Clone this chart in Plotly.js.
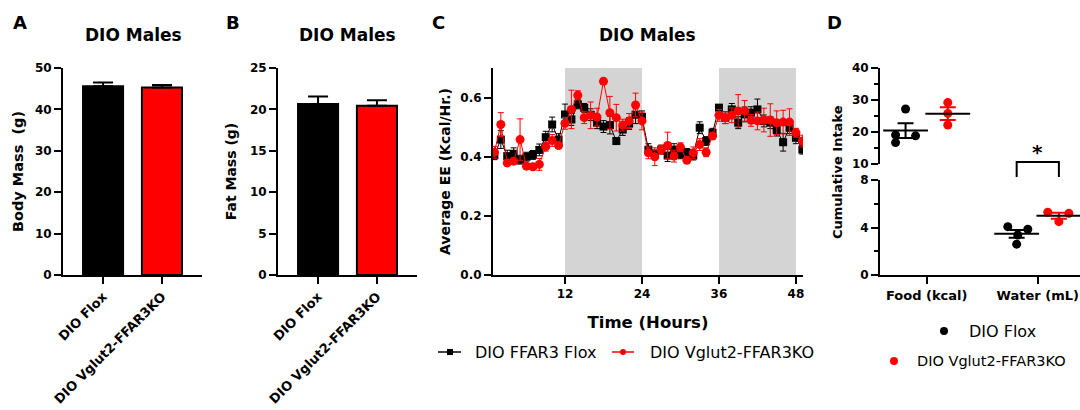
<!DOCTYPE html>
<html><head><meta charset="utf-8">
<script src="https://cdn.plot.ly/plotly-3.0.1.min.js"></script>
<style>html,body{margin:0;padding:0;background:#fff}#chart{width:1080px;height:410px}</style>
</head><body><div id="chart"></div>
<script>
// ---------- DATA ----------
const groups = ['DIO Flox', 'DIO Vglut2-FFAR3KO'];
const bodyMass = [45.6, 45.3];
const bodyMassSem = [0.9, 0.6];
const fatMass = [20.65, 20.45];
const fatMassSem = [0.9, 0.65];

const hours = [1,2,3,4,5,6,7,8,9,10,11,12,13,14,15,16,17,18,19,20,21,22,23,24,25,26,27,28,29,30,31,32,33,34,35,36,37,38,39,40,41,42,43,44,45,46,47,48,49];
const eeFlox = [0.405,0.458,0.402,0.410,0.390,0.400,0.406,0.423,0.466,0.509,0.458,0.543,0.526,0.577,0.565,0.542,0.515,0.502,0.507,0.453,0.492,0.512,0.542,0.535,0.424,0.408,0.424,0.404,0.424,0.408,0.413,0.404,0.498,0.453,0.481,0.566,0.532,0.560,0.515,0.543,0.549,0.560,0.521,0.515,0.490,0.449,0.498,0.464,0.424];
const eeFloxSem = [0.015,0.03,0.02,0.02,0.015,0.015,0.015,0.02,0.02,0.025,0.02,0.035,0.02,0.015,0.015,0.02,0.02,0.02,0.03,0.01,0.02,0.02,0.03,0.02,0.02,0.015,0.015,0.02,0.02,0.015,0.015,0.015,0.02,0.015,0.015,0.01,0.02,0.02,0.02,0.025,0.02,0.035,0.02,0.02,0.02,0.03,0.02,0.02,0.015];
const eeKO = [0.415,0.509,0.379,0.385,0.458,0.368,0.366,0.374,0.434,0.455,0.438,0.513,0.560,0.608,0.532,0.540,0.534,0.655,0.549,0.532,0.507,0.521,0.575,0.521,0.413,0.400,0.424,0.438,0.402,0.432,0.388,0.413,0.441,0.415,0.470,0.540,0.532,0.540,0.555,0.555,0.523,0.521,0.524,0.524,0.515,0.517,0.517,0.481,0.453];
const eeKOSem = [0.02,0.04,0.01,0.01,0.07,0.01,0.01,0.02,0.015,0.02,0.01,0.02,0.065,0.015,0.02,0.045,0.03,0.01,0.055,0.045,0.02,0.025,0.04,0.03,0.02,0.03,0.015,0.045,0.02,0.015,0.01,0.02,0.02,0.015,0.01,0.02,0.02,0.025,0.055,0.035,0.02,0.03,0.04,0.055,0.04,0.04,0.045,0.015,0.02];
const timeTicks = [12, 24, 36, 48];

const intakeCats = ['Food (kcal)', 'Water (mL)'];
const floxFood = [16.7, 19.1, 27.2, 18.8];
const floxFoodJitter = [-0.09, -0.09, 0, 0.09];
const koFood = [22.2, 25.8, 29.2];
const koFoodJitter = [0, 0, 0];
const floxWater = [4.07, 2.6, 3.85, 3.37];
const floxWaterJitter = [-0.08, 0, 0.1, 0.01];
const koWater = [5.28, 4.49, 5.19];
const koWaterJitter = [-0.1, 0, 0.09];
const legendC = ['DIO FFAR3 Flox', 'DIO Vglut2-FFAR3KO'];
const legendD = ['DIO Flox', 'DIO Vglut2-FFAR3KO'];

// ---------- HELPERS ----------
const FONT = 'DejaVu Sans';
const W = 1080, H = 410;
const px = v => v / W;
const py = v => (H - v) / H;
const mean = a => a.reduce((s, v) => s + v, 0) / a.length;
const sem = a => { const m = mean(a); return Math.sqrt(a.reduce((s, v) => s + (v - m) * (v - m), 0) / (a.length - 1)) / Math.sqrt(a.length); };

const tickFont = {family: FONT, size: 12, color: '#000', weight: 'bold'};
const titleFont = {family: FONT, size: 14, color: '#000', weight: 'bold'};
function ax(extra) {
  return Object.assign({
    showline: true, linecolor: '#000', linewidth: 2,
    ticks: 'outside', ticklen: 7, tickwidth: 2, tickcolor: '#000',
    showgrid: false, zeroline: false, fixedrange: true,
    tickfont: tickFont
  }, extra);
}

const yDom = [py(275), py(68)];
const traces = [];

// Panel A bars
traces.push({
  type: 'bar', x: groups, y: bodyMass, xaxis: 'x', yaxis: 'y', width: 0.68,
  marker: {color: ['#000000', '#ff0000'], line: {color: '#000', width: 2}},
  error_y: {type: 'data', array: bodyMassSem, arrayminus: [0, 0], symmetric: false, color: '#000', thickness: 2, width: 10},
  showlegend: false, hoverinfo: 'x+y'
});
// Panel B bars
traces.push({
  type: 'bar', x: groups, y: fatMass, xaxis: 'x2', yaxis: 'y2', width: 0.68,
  marker: {color: ['#000000', '#ff0000'], line: {color: '#000', width: 2}},
  error_y: {type: 'data', array: fatMassSem, arrayminus: [0, 0], symmetric: false, color: '#000', thickness: 2, width: 10},
  showlegend: false, hoverinfo: 'x+y'
});
// Panel C lines
traces.push({
  type: 'scatter', mode: 'lines+markers', x: hours, y: eeFlox, xaxis: 'x3', yaxis: 'y3',
  name: legendC[0],
  line: {color: '#000', width: 1},
  marker: {symbol: 'square', size: 8, color: '#000'},
  error_y: {type: 'data', array: eeFloxSem, color: '#000', thickness: 1, width: 3},
  showlegend: false
});
traces.push({
  type: 'scatter', mode: 'lines+markers', x: hours, y: eeKO, xaxis: 'x3', yaxis: 'y3',
  name: legendC[1],
  line: {color: '#ff0000', width: 1},
  marker: {symbol: 'circle', size: 9, color: '#ff0000'},
  error_y: {type: 'data', array: eeKOSem, color: '#ff0000', thickness: 1, width: 3},
  showlegend: false
});

// Panel D scatter
const OFF = 0.19;
function dotTraces(vals, jit, center, color, yaxis) {
  traces.push({
    type: 'scatter', mode: 'markers', x: jit.map(j => center + j), y: vals,
    xaxis: 'x4', yaxis: yaxis, marker: {color: color, size: 9}, showlegend: false
  });
  traces.push({
    type: 'scatter', mode: 'markers', x: [center], y: [mean(vals)],
    xaxis: 'x4', yaxis: yaxis,
    marker: {symbol: 'line-ew', size: 32, line: {color: '#000', width: 2}},
    error_y: {type: 'data', array: [sem(vals)], color: color, thickness: 2, width: 8},
    showlegend: false
  });
}
dotTraces(floxFood, floxFoodJitter, 1 - OFF, '#000000', 'y5');
dotTraces(koFood, koFoodJitter, 1 + OFF, '#ff0000', 'y5');
dotTraces(floxWater, floxWaterJitter, 2 - OFF, '#000000', 'y4');
dotTraces(koWater, koWaterJitter, 2 + OFF, '#ff0000', 'y4');

// ---------- LAYOUT ----------
const ann = [];
const panelLbl = (t, x) => ann.push({text: t, x: px(x), y: py(22), xref: 'paper', yref: 'paper', xanchor: 'center', yanchor: 'middle', showarrow: false, font: {family: FONT, size: 18, weight: 'bold', color: '#000'}});
panelLbl('A', 20); panelLbl('B', 233); panelLbl('C', 438); panelLbl('D', 834);
const ttl = x => ann.push({text: 'DIO Males', x: px(x), y: py(35), xref: 'paper', yref: 'paper', xanchor: 'center', yanchor: 'middle', showarrow: false, font: {family: FONT, size: 17, weight: 'bold', color: '#000'}});
ttl(133); ttl(347); ttl(647);

// D y title
ann.push({text: 'Cumulative Intake', x: px(837), y: py(172), xref: 'paper', yref: 'paper', xanchor: 'center', yanchor: 'middle', showarrow: false, textangle: -90, font: {family: FONT, size: 13, weight: 'bold', color: '#000'}});
// significance star
ann.push({text: '*', x: 2, y: py(152), xref: 'x4', yref: 'paper', xanchor: 'center', yanchor: 'middle', showarrow: false, font: {family: FONT, size: 20, weight: 'bold', color: '#000'}});

// legends
const legFont = {family: FONT, size: 16, color: '#000'};
ann.push({text: legendC[0], x: px(473), y: py(352), xref: 'paper', yref: 'paper', xanchor: 'left', yanchor: 'middle', showarrow: false, font: legFont});
ann.push({text: legendC[1], x: px(648), y: py(352), xref: 'paper', yref: 'paper', xanchor: 'left', yanchor: 'middle', showarrow: false, font: legFont});
ann.push({text: legendD[0], x: px(967), y: py(331), xref: 'paper', yref: 'paper', xanchor: 'left', yanchor: 'middle', showarrow: false, font: legFont});
ann.push({text: legendD[1], x: px(915), y: py(361), xref: 'paper', yref: 'paper', xanchor: 'left', yanchor: 'middle', showarrow: false, font: {family: FONT, size: 14.5, color: '#000'}});

const shapes = [
  {type: 'rect', xref: 'x3', yref: 'y3', x0: 12, x1: 24, y0: 0, y1: 0.7, fillcolor: '#d4d4d4', line: {width: 0}, layer: 'below'},
  {type: 'rect', xref: 'x3', yref: 'y3', x0: 36, x1: 48, y0: 0, y1: 0.7, fillcolor: '#d4d4d4', line: {width: 0}, layer: 'below'},
  // legend C glyphs
  {type: 'line', xref: 'paper', yref: 'paper', x0: px(438), x1: px(461), y0: py(352), y1: py(352), line: {color: '#000', width: 1.5}},
  {type: 'rect', xref: 'paper', yref: 'paper', x0: px(447), x1: px(453), y0: py(355), y1: py(349), fillcolor: '#000', line: {width: 0}},
  {type: 'line', xref: 'paper', yref: 'paper', x0: px(612), x1: px(634), y0: py(352), y1: py(352), line: {color: '#ff0000', width: 1.5}},
  {type: 'circle', xref: 'paper', yref: 'paper', x0: px(620), x1: px(626), y0: py(355), y1: py(349), fillcolor: '#ff0000', line: {width: 0}},
  // legend D glyphs
  {type: 'circle', xref: 'paper', yref: 'paper', x0: px(940), x1: px(948), y0: py(335), y1: py(327), fillcolor: '#000', line: {width: 0}},
  {type: 'circle', xref: 'paper', yref: 'paper', x0: px(890), x1: px(898), y0: py(365), y1: py(357), fillcolor: '#ff0000', line: {width: 0}},
  // significance bracket
  {type: 'path', xref: 'x4', yref: 'paper', path: `M ${2 - OFF} ${py(177)} L ${2 - OFF} ${py(162)} L ${2 + OFF} ${py(162)} L ${2 + OFF} ${py(177)}`, line: {color: '#000', width: 2}}
];

const layout = {
  width: W, height: H, margin: {l: 0, r: 0, t: 0, b: 0},
  paper_bgcolor: '#fff', plot_bgcolor: 'rgba(0,0,0,0)',
  font: {family: FONT, color: '#000'},
  showlegend: false, bargap: 0,
  xaxis: ax({domain: [px(63), px(202)], anchor: 'y', type: 'category', range: [-0.68, 1.68], tickangle: -45, tickfont: {family: FONT, size: 13, weight: 'bold', color: '#000'}}),
  yaxis: ax({domain: yDom, anchor: 'x', range: [0, 50], tickvals: [0, 10, 20, 30, 40, 50],
    title: {text: 'Body Mass\u00a0\u00a0(g)', font: {family: FONT, size: 14.5, weight: 'bold', color: '#000'}, standoff: 8}}),
  xaxis2: ax({domain: [px(278), px(417)], anchor: 'y2', type: 'category', range: [-0.68, 1.68], tickangle: -45, tickfont: {family: FONT, size: 13, weight: 'bold', color: '#000'}}),
  yaxis2: ax({domain: yDom, anchor: 'x2', range: [0, 25], tickvals: [0, 5, 10, 15, 20, 25],
    title: {text: 'Fat Mass (g)', font: titleFont, standoff: 10}}),
  xaxis3: ax({domain: [px(493), px(803)], anchor: 'y3', range: [0.78, 49.1], tickvals: timeTicks,
    title: {text: 'Time (Hours)', font: {family: FONT, size: 16.5, weight: 'bold', color: '#000'}, standoff: 16}}),
  yaxis3: ax({domain: yDom, anchor: 'x3', range: [0, 0.7], tickvals: [0, 0.2, 0.4, 0.6], tickformat: '.1f',
    title: {text: 'Average EE (Kcal/Hr.)', font: titleFont, standoff: 6}}),
  xaxis4: ax({domain: [px(880), 1], anchor: 'y4', range: [0.58, 2.38], tickvals: [1, 2], ticktext: intakeCats,
    tickfont: {family: FONT, size: 13, weight: 'bold', color: '#000'}}),
  yaxis4: ax({domain: [py(275), py(180)], anchor: 'x4', range: [0, 8], tickvals: [0, 4, 8],
    minor: {tickvals: [2, 6], ticks: 'outside', ticklen: 4, tickwidth: 2, tickcolor: '#000', showgrid: false}}),
  yaxis5: ax({domain: [py(164), py(68)], anchor: 'x4', range: [10, 40], tickvals: [10, 20, 30, 40],
    minor: {tickvals: [15, 25, 35], ticks: 'outside', ticklen: 4, tickwidth: 2, tickcolor: '#000', showgrid: false}}),
  annotations: ann,
  shapes: shapes
};

Plotly.newPlot('chart', traces, layout, {staticPlot: true, displayModeBar: false});
</script>
</body></html>
